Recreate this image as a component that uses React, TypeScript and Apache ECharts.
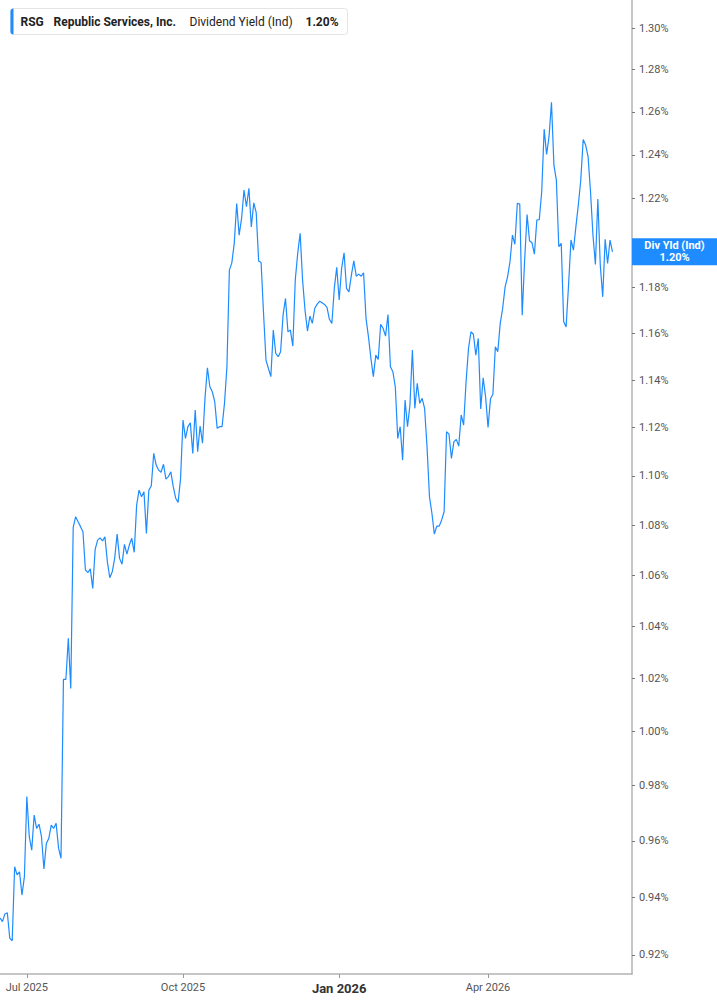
import { useEffect, useRef } from 'react';
import * as echarts from 'echarts';

// trading calendar used for the category axis
const START_DATE = '2025-06-13';
const CATEGORY_COUNT = 260;
const HOLIDAYS = [
    '2025-06-19', '2025-07-04', '2025-09-01', '2025-11-27', '2025-12-25',
    '2026-01-01', '2026-01-19', '2026-02-16', '2026-04-03', '2026-05-25', '2026-06-19',
];
const MONTHS = ['Jan', 'Feb', 'Mar', 'Apr', 'May', 'Jun', 'Jul', 'Aug', 'Sep', 'Oct', 'Nov', 'Dec'];

// dividend yield (%), one value per trading day from START_DATE
const yieldValues = [
    0.9328, 0.9315, 0.9342, 0.9346, 0.9258, 0.9249, 0.9508, 0.9479, 0.9490, 0.9408,
    0.9473, 0.9760, 0.9615, 0.9567, 0.9693, 0.9645, 0.9660, 0.9615, 0.9500, 0.9591,
    0.9609, 0.9657, 0.9645, 0.9663, 0.9574, 0.9538, 1.0196, 1.0196, 1.0354, 1.0162,
    1.0791, 1.0834, 1.0814, 1.0794, 1.0773, 1.0621, 1.0610, 1.0625, 1.0548, 1.0703,
    1.0740, 1.0749, 1.0737, 1.0753, 1.0653, 1.0590, 1.0614, 1.0667, 1.0764, 1.0667,
    1.0644, 1.0723, 1.0684, 1.0720, 1.0747, 1.0691, 1.0881, 1.0942, 1.0915, 1.0935,
    1.0767, 1.0942, 1.0959, 1.1093, 1.1045, 1.1024, 1.1015, 1.1048, 1.0987, 1.0997,
    1.1017, 1.0956, 1.0909, 1.0892, 1.0990, 1.1232, 1.1155, 1.1204, 1.1220, 1.1093,
    1.1274, 1.1100, 1.1207, 1.1135, 1.1323, 1.1453, 1.1372, 1.1351, 1.1309, 1.1197,
    1.1204, 1.1204, 1.1302, 1.1457, 1.1878, 1.1910, 1.1997, 1.2177, 1.2034, 1.2109,
    1.2238, 1.2162, 1.2246, 1.2071, 1.2180, 1.2135, 1.1918, 1.1912, 1.1688, 1.1486,
    1.1450, 1.1415, 1.1615, 1.1515, 1.1500, 1.1522, 1.1680, 1.1753, 1.1608, 1.1615,
    1.1546, 1.1834, 1.1952, 1.2042, 1.1834, 1.1702, 1.1611, 1.1676, 1.1644, 1.1710,
    1.1728, 1.1741, 1.1734, 1.1727, 1.1714, 1.1662, 1.1644, 1.1797, 1.1890, 1.1746,
    1.1886, 1.1955, 1.1797, 1.1782, 1.1856, 1.1919, 1.1851, 1.1860, 1.1851, 1.1866,
    1.1666, 1.1586, 1.1493, 1.1415, 1.1507, 1.1489, 1.1640, 1.1623, 1.1589, 1.1683,
    1.1457, 1.1436, 1.1372, 1.1155, 1.1204, 1.1065, 1.1316, 1.1204, 1.1295, 1.1529,
    1.1281, 1.1387, 1.1302, 1.1323, 1.1281, 1.1120, 1.0915, 1.0848, 1.0764, 1.0796,
    1.0796, 1.0821, 1.0854, 1.1183, 1.1173, 1.1072, 1.1141, 1.1151, 1.1123, 1.1253,
    1.1211, 1.1393, 1.1536, 1.1608, 1.1597, 1.1507, 1.1579, 1.1278, 1.1410, 1.1330,
    1.1201, 1.1320, 1.1341, 1.1543, 1.1522, 1.1644, 1.1710, 1.1804, 1.1848, 1.1915,
    1.2034, 1.1993, 1.2177, 1.2174, 1.1680, 1.1922, 1.2127, 1.2009, 1.2000, 1.1949,
    1.2102, 1.2104, 1.2230, 1.2519, 1.2402, 1.2484, 1.2645, 1.2352, 1.2283, 1.1982,
    1.1997, 1.1651, 1.1629, 1.1812, 1.2012, 1.1967, 1.2071, 1.2170, 1.2283, 1.2471,
    1.2445, 1.2391, 1.2230, 1.2034, 1.1903, 1.2197, 1.1900, 1.1760, 1.2015, 1.1908,
    1.2012, 1.1959,
];

// right axis (log scale) tick values
const yTicks = [
    0.92, 0.94, 0.96, 0.98, 1.00, 1.02, 1.04, 1.06, 1.08, 1.10,
    1.12, 1.14, 1.16, 1.18, 1.20, 1.22, 1.24, 1.26, 1.28, 1.30,
];
const Y_MIN = 0.9135;
const Y_MAX = 1.3137;

const LINE_BLUE = '#1e8cff';
const FONT = 'Roboto, "Noto Sans", sans-serif';

function buildTradingDays(start: string, count: number) {
    const days: string[] = [];
    const d = new Date(start + 'T00:00:00Z');
    while (days.length < count) {
        const iso = d.toISOString().slice(0, 10);
        const wd = d.getUTCDay();
        if (wd !== 0 && wd !== 6 && !HOLIDAYS.includes(iso)) days.push(iso);
        d.setUTCDate(d.getUTCDate() + 1);
    }
    return days;
}

const dates = buildTradingDays(START_DATE, CATEGORY_COUNT);

// first trading day of Jan / Apr / Jul / Oct
const isQuarterStart = (index: number) => {
    if (index === 0) return false;
    const m = Number(dates[index].slice(5, 7));
    const prev = Number(dates[index - 1].slice(5, 7));
    return m !== prev && (m - 1) % 3 === 0;
};

const App = () => {
    const chartRef = useRef<HTMLDivElement>(null);

    useEffect(() => {
        if (!chartRef.current) return;
        const chart = echarts.init(chartRef.current, null, { renderer: 'svg' });

        const last = yieldValues[yieldValues.length - 1];
        const lastLabel = `${last.toFixed(2)}%`;

        const option: echarts.EChartsOption = {
            animation: false,
            backgroundColor: '#fff',
            grid: { left: 0, right: 85, top: 0, bottom: 31 },
            xAxis: {
                type: 'category',
                data: dates,
                boundaryGap: false,
                axisLine: { onZero: false, lineStyle: { color: '#b3b3b3', width: 1.5 } },
                axisTick: { interval: (i: number) => isQuarterStart(i), length: 4, lineStyle: { color: '#999' } },
                axisLabel: {
                    interval: (i: number) => isQuarterStart(i),
                    margin: 8,
                    color: '#555',
                    fontSize: 11,
                    fontFamily: FONT,
                    formatter: (value: string) => {
                        const m = Number(value.slice(5, 7));
                        const text = `${MONTHS[m - 1]} ${value.slice(0, 4)}`;
                        return m === 1 ? `{year|${text}}` : text;
                    },
                    rich: {
                        year: { fontSize: 13, fontWeight: 'bold', color: '#333', fontFamily: FONT },
                    },
                },
                splitLine: { show: false },
            },
            yAxis: {
                type: 'value',
                position: 'right',
                min: Math.log(Y_MIN),
                max: Math.log(Y_MAX),
                axisLine: { show: true, lineStyle: { color: '#b3b3b3', width: 1.5 } },
                axisTick: {
                    show: true,
                    customValues: yTicks.map(v => Math.log(v)),
                    length: 3,
                    lineStyle: { color: '#777' },
                },
                axisLabel: {
                    // the tick label under the last-value badge is covered, so skip it
                    customValues: yTicks.filter(v => `${v.toFixed(2)}%` !== lastLabel).map(v => Math.log(v)),
                    formatter: (v: number) => `${Math.exp(v).toFixed(2)}%`,
                    margin: 7,
                    color: '#555',
                    fontSize: 11,
                    fontFamily: FONT,
                },
                splitLine: { show: false },
            },
            series: [
                {
                    name: 'Dividend Yield (Ind)',
                    type: 'line',
                    data: yieldValues.map(v => Math.log(v)),
                    showSymbol: false,
                    lineStyle: { color: LINE_BLUE, width: 1.2 },
                },
            ],
        };
        chart.setOption(option);

        const lastY = chart.convertToPixel({ yAxisIndex: 0 }, Math.log(last)) as number;
        const gridRight = chart.getWidth() - 85;

        chart.setOption({
            graphic: [
                {
                    type: 'group',
                    left: 10,
                    top: 8,
                    children: [
                        { type: 'rect', shape: { x: 0, y: 0, width: 337, height: 26, r: 3 }, style: { fill: '#fff', stroke: '#e4e4e4', lineWidth: 1 } },
                        { type: 'rect', shape: { x: 0, y: 0, width: 3, height: 26, r: [3, 0, 0, 3] }, style: { fill: LINE_BLUE } },
                        { type: 'text', x: 10, y: 13, style: { text: 'RSG', fill: '#222', font: `bold 12px ${FONT}`, verticalAlign: 'middle' } },
                        { type: 'text', x: 43, y: 13, style: { text: 'Republic Services, Inc.', fill: '#222', font: `bold 12px ${FONT}`, verticalAlign: 'middle' } },
                        { type: 'text', x: 179, y: 13, style: { text: 'Dividend Yield (Ind)', fill: '#222', font: `12px ${FONT}`, verticalAlign: 'middle' } },
                        { type: 'text', x: 295, y: 13, style: { text: lastLabel, fill: '#222', font: `bold 12px ${FONT}`, verticalAlign: 'middle' } },
                    ],
                },
                {
                    type: 'rect',
                    z: 100,
                    shape: { x: gridRight, y: lastY - 13.5, width: 85, height: 27 },
                    style: { fill: LINE_BLUE },
                },
                {
                    type: 'text',
                    z: 101,
                    x: gridRight + 42.5,
                    y: lastY,
                    style: {
                        text: `Div Yld (Ind)\n${lastLabel}`,
                        fill: '#fff',
                        font: `bold 11px ${FONT}`,
                        lineHeight: 12,
                        align: 'center',
                        verticalAlign: 'middle',
                    },
                },
            ],
        });

        return () => chart.dispose();
    }, []);

    return <div ref={chartRef} style={{ position: 'fixed', left: 0, top: 0, width: 717, height: 1005 }} />;
};

export default App;
